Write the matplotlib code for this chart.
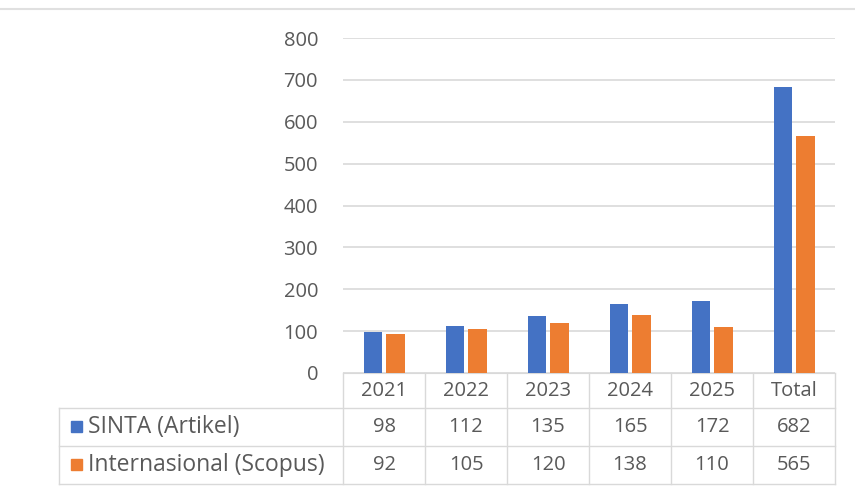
import matplotlib.pyplot as plt
import numpy as np
from matplotlib.patches import Rectangle

kategori = ['2021', '2022', '2023', '2024', '2025', 'Total']
sinta = [98, 112, 135, 165, 172, 682]
scopus = [92, 105, 120, 138, 110, 565]
seri = ['SINTA (Artikel)', 'Internasional (Scopus)']
warna = ['#4472C4', '#ED7D31']

plt.rcParams['font.family'] = ['Open Sans', 'DejaVu Sans']
teks = '#595959'
garis = '#d9d9d9'
uk = 14.5

W, H = 855, 491
fig = plt.figure(figsize=(W / 100, H / 100), dpi=100)

# area plot (piksel): x 343-835, y 38 (800) sampai 373 (0)
x0, x1, y_atas, y_nol = 343, 835, 38, 373
ax = fig.add_axes([x0 / W, (H - y_nol) / H, (x1 - x0) / W, (y_nol - y_atas) / H])

x = np.arange(len(kategori))
lebar = 0.23
ax.bar(x - 0.135, sinta, lebar, color=warna[0], zorder=3)
ax.bar(x + 0.135, scopus, lebar, color=warna[1], zorder=3)

ax.set_xlim(-0.5, len(kategori) - 0.5)
ax.set_ylim(0, 800)
ax.set_yticks(range(0, 801, 100))
ax.yaxis.grid(True, color=garis, linewidth=1.2, zorder=0)
ax.tick_params(axis='y', length=0, labelsize=uk, labelcolor=teks, pad=18)
ax.set_xticks([])
for s in ['top', 'right', 'left']:
    ax.spines[s].set_visible(False)
ax.spines['bottom'].set_color(garis)


# --- tabel data di bawah grafik (digambar manual, koordinat piksel) ---
def fx(px):
    return px / W


def fy(py):
    return 1 - py / H


def garis_fig(xa, xb, ya, yb):
    fig.add_artist(plt.Line2D([fx(xa), fx(xb)], [fy(ya), fy(yb)], color=garis, linewidth=1.0))


x_label = 59
baris_y = [373, 408, 446, 484]
lebar_kol = (x1 - x0) / len(kategori)
kol_x = [x0 + k * lebar_kol for k in range(len(kategori) + 1)]

for xk in kol_x:
    garis_fig(xk, xk, baris_y[0], baris_y[-1])
garis_fig(x_label, x_label, baris_y[1], baris_y[-1])
for yb in baris_y[1:]:
    garis_fig(x_label, x1, yb, yb)

for k, kat in enumerate(kategori):
    xc = (kol_x[k] + kol_x[k + 1]) / 2
    fig.text(fx(xc), fy((baris_y[0] + baris_y[1]) / 2 + 1), kat, ha='center', va='center',
             fontsize=uk, color=teks)
    for r, nilai in enumerate([sinta, scopus]):
        yc = (baris_y[r + 1] + baris_y[r + 2]) / 2
        fig.text(fx(xc), fy(yc), str(nilai[k]), ha='center', va='center', fontsize=uk, color=teks)

for r, (nama, w) in enumerate(zip(seri, warna)):
    yc = (baris_y[r + 1] + baris_y[r + 2]) / 2
    fig.patches.append(Rectangle((fx(71), fy(yc + 5)), 11 / W, 11 / H,
                                 transform=fig.transFigure, color=w, figure=fig))
    fig.text(fx(88), fy(yc), nama, ha='left', va='center', fontsize=uk + 2, color=teks)

# garis bingkai atas
fig.add_artist(plt.Line2D([0, 1], [fy(9), fy(9)], color='#e0e0e0', linewidth=1.5))

fig.savefig('out.png', dpi=100, facecolor='white')
